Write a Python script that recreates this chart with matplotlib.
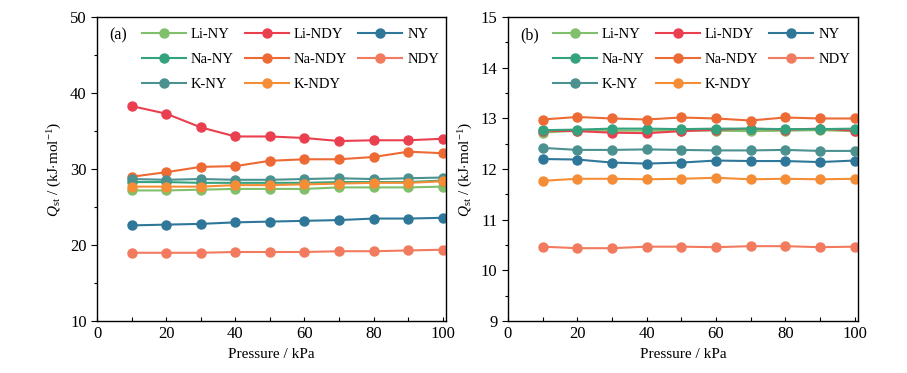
import numpy as np
import matplotlib as mpl
mpl.use('Agg')
import matplotlib.pyplot as plt

plt.rcParams['font.family'] = ['Liberation Serif', 'DejaVu Serif']
plt.rcParams['mathtext.fontset'] = 'custom'
plt.rcParams['mathtext.rm'] = 'Liberation Serif'
plt.rcParams['mathtext.it'] = 'Liberation Serif:italic'

pressure = [10, 20, 30, 40, 50, 60, 70, 80, 90, 100]

names = ["Li-NY", "Li-NDY", "NY", "Na-NY", "Na-NDY", "NDY", "K-NY", "K-NDY"]
colors = {
    "Li-NY": "#80bf6b",
    "Li-NDY": "#ea3f4f",
    "NY": "#2e7799",
    "Na-NY": "#35a27e",
    "Na-NDY": "#ee6a34",
    "NDY": "#f27a5e",
    "K-NY": "#4b918f",
    "K-NDY": "#f58d36",
}

# panel (a)
qa_li_ny = [27.2, 27.2, 27.3, 27.4, 27.4, 27.4, 27.6, 27.6, 27.6, 27.7]
qa_li_ndy = [38.3, 37.3, 35.5, 34.3, 34.3, 34.1, 33.7, 33.8, 33.8, 34.0]
qa_ny = [22.6, 22.7, 22.8, 23.0, 23.1, 23.2, 23.3, 23.5, 23.5, 23.6]
qa_na_ny = [28.3, 28.3, 28.2, 28.2, 28.2, 28.2, 28.3, 28.3, 28.3, 28.5]
qa_na_ndy = [29.0, 29.6, 30.3, 30.4, 31.1, 31.3, 31.3, 31.6, 32.3, 32.1]
qa_ndy = [19.0, 19.0, 19.0, 19.1, 19.1, 19.1, 19.2, 19.2, 19.3, 19.4]
qa_k_ny = [28.7, 28.6, 28.7, 28.6, 28.6, 28.7, 28.8, 28.7, 28.8, 28.9]
qa_k_ndy = [27.7, 27.7, 27.7, 27.9, 27.9, 28.0, 28.1, 28.2, 28.2, 28.4]

# panel (b)
qb_li_ny = [12.72, 12.76, 12.76, 12.76, 12.76, 12.76, 12.75, 12.76, 12.77, 12.75]
qb_li_ndy = [12.76, 12.75, 12.72, 12.71, 12.75, 12.78, 12.80, 12.78, 12.80, 12.76]
qb_ny = [12.20, 12.19, 12.13, 12.11, 12.13, 12.17, 12.16, 12.16, 12.14, 12.17]
qb_na_ny = [12.77, 12.78, 12.80, 12.80, 12.79, 12.80, 12.80, 12.79, 12.79, 12.80]
qb_na_ndy = [12.98, 13.03, 13.00, 12.98, 13.02, 13.00, 12.96, 13.02, 13.00, 13.00]
qb_ndy = [10.47, 10.44, 10.44, 10.47, 10.47, 10.46, 10.48, 10.48, 10.46, 10.47]
qb_k_ny = [12.42, 12.38, 12.38, 12.39, 12.38, 12.37, 12.37, 12.38, 12.36, 12.36]
qb_k_ndy = [11.77, 11.81, 11.81, 11.80, 11.81, 11.83, 11.80, 11.81, 11.80, 11.81]

series_a = dict(zip(names, [qa_li_ny, qa_li_ndy, qa_ny, qa_na_ny, qa_na_ndy, qa_ndy, qa_k_ny, qa_k_ndy]))
series_b = dict(zip(names, [qb_li_ny, qb_li_ndy, qb_ny, qb_na_ny, qb_na_ndy, qb_ndy, qb_k_ny, qb_k_ndy]))

# legend order: matplotlib fills columns first
legend_order = ["Li-NY", "Na-NY", "K-NY", "Li-NDY", "Na-NDY", "K-NDY", "NY", "NDY"]


def draw_panel(ax, series, ylim, yticks, yminor, tag):
    handles = {}
    for name in names:
        line, = ax.plot(pressure, series[name], color=colors[name], lw=1.5,
                        marker='o', ms=6.5, mec=colors[name], mfc=colors[name],
                        label=name)
        handles[name] = line
    ax.set_xlim(0, 101)
    ax.set_ylim(*ylim)
    ax.set_xticks([0, 20, 40, 60, 80, 100])
    ax.set_xticks([10, 30, 50, 70, 90], minor=True)
    ax.set_yticks(yticks)
    ax.set_yticks(yminor, minor=True)
    ax.tick_params(axis='x', which='both', direction='in', length=3, labelsize=12, width=0.8)
    ax.tick_params(axis='y', which='major', direction='out', length=4, labelsize=12, width=0.8)
    ax.tick_params(axis='y', which='minor', direction='out', length=2.5, width=0.8)
    for sp in ax.spines.values():
        sp.set_linewidth(1.0)
    ax.set_xlabel("Pressure / kPa", fontsize=11)
    ax.set_ylabel(r"$Q_{\mathrm{st}}$ / (kJ$\cdot$mol$^{-1}$)", fontsize=11)
    ax.text(0.035, 0.965, tag, transform=ax.transAxes, fontsize=11.5, va='top', ha='left')
    ax.legend([handles[n] for n in legend_order], legend_order, ncol=3, frameon=False,
              loc='upper left', bbox_to_anchor=(0.1, 0.997), fontsize=10.5,
              handlelength=3.0, columnspacing=0.75, labelspacing=0.8, handletextpad=0.35,
              borderaxespad=0.3)


fig = plt.figure(figsize=(9.07, 3.73), dpi=100)
ax1 = fig.add_axes([0.107, 0.139, 0.385, 0.815])
ax2 = fig.add_axes([0.560, 0.139, 0.386, 0.815])

draw_panel(ax1, series_a, (10, 50), [10, 20, 30, 40, 50], [15, 25, 35, 45], "(a)")
draw_panel(ax2, series_b, (9, 15), [9, 10, 11, 12, 13, 14, 15],
           [9.5, 10.5, 11.5, 12.5, 13.5, 14.5], "(b)")

fig.savefig("out.png", dpi=100)
